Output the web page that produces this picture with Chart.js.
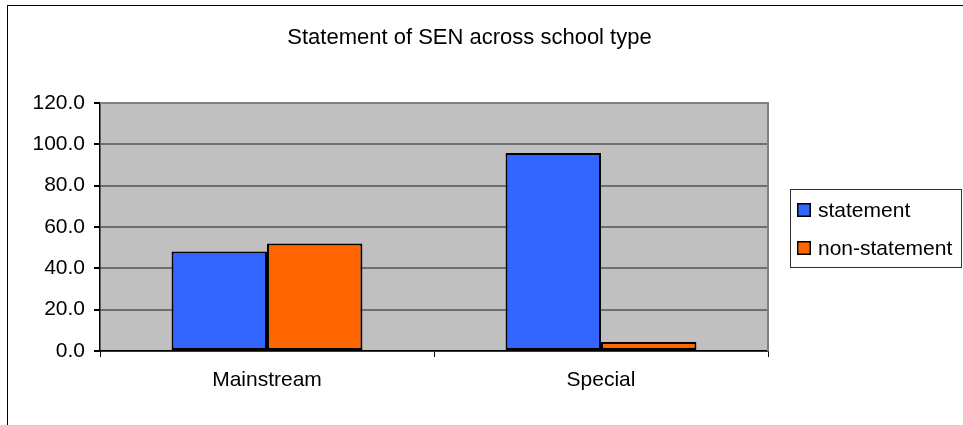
<!DOCTYPE html>
<html>
<head>
<meta charset="utf-8">
<script src="https://cdn.jsdelivr.net/npm/chart.js@4.4.1/dist/chart.umd.min.js"></script>
<style>
    html, body { margin: 0; padding: 0; background: #ffffff; }
    #wrap { position: relative; width: 963px; height: 425px; }
</style>
</head>
<body>
<div id="wrap"><canvas id="senChart" width="963" height="425"></canvas></div>
<script>
// --- data ---
const categories = ['Mainstream', 'Special'];
const statementValues = [48.2, 95.8];
const nonStatementValues = [52.0, 4.4];
const seriesLabels = ['statement', 'non-statement'];
const seriesColors = ['#3366ff', '#ff6600'];
const yTicks = [0, 20, 40, 60, 80, 100, 120];

const FONT = "'Liberation Sans', Arial, sans-serif";

// outer frame, plot background and the legend box (drawn like the old Excel chart)
const excelLook = {
    id: 'excelLook',
    beforeDraw(chart) {
        const c = chart.ctx;
        const a = chart.chartArea;
        c.save();
        c.fillStyle = '#ffffff';
        c.fillRect(0, 0, chart.width, chart.height);
        c.strokeStyle = '#000000';
        c.lineWidth = 1;
        c.strokeRect(7.5, 5.5, chart.width + 10, chart.height + 10);
        c.fillStyle = '#c0c0c0';
        c.fillRect(a.left, a.top, a.right - a.left, a.bottom - a.top);
        c.restore();
    },
    afterDatasetsDraw(chart) {
        const c = chart.ctx;
        const a = chart.chartArea;
        c.save();
        c.strokeStyle = '#808080';
        c.lineWidth = 2;
        c.beginPath();
        c.moveTo(a.left, a.top);
        c.lineTo(a.right, a.top);
        c.lineTo(a.right, a.bottom);
        c.stroke();
        c.restore();
    },
    afterDraw(chart) {
        const c = chart.ctx;
        c.save();
        // legend
        const lx = 790, ly = 189, lw = 171, lh = 78;
        c.strokeStyle = '#303030';
        c.lineWidth = 1;
        c.strokeRect(lx + 0.5, ly + 0.5, lw, lh);
        c.font = '21px ' + FONT;
        c.textBaseline = 'middle';
        chart.data.datasets.forEach((ds, i) => {
            const y = ly + 21 + i * 38;
            c.fillStyle = ds.backgroundColor;
            c.fillRect(797, y - 7, 14, 14);
            c.strokeStyle = '#000000';
            c.lineWidth = 1.5;
            c.strokeRect(797.75, y - 6.25, 12.5, 12.5);
            c.fillStyle = '#000000';
            c.fillText(ds.label, 818, y + 1);
        });
        c.restore();
    }
};

new Chart(document.getElementById('senChart'), {
    type: 'bar',
    data: {
        labels: categories,
        datasets: [{
            label: seriesLabels[0],
            data: statementValues,
            backgroundColor: seriesColors[0],
            borderColor: '#000000',
            borderWidth: 2,
            borderSkipped: false,
            categoryPercentage: 2 / 3.5,
            barPercentage: 1
        }, {
            label: seriesLabels[1],
            data: nonStatementValues,
            backgroundColor: seriesColors[1],
            borderColor: '#000000',
            borderWidth: 2,
            borderSkipped: false,
            categoryPercentage: 2 / 3.5,
            barPercentage: 1
        }]
    },
    options: {
        responsive: false,
        animation: false,
        layout: { padding: { left: 0, right: 24, top: 0, bottom: 0 } },
        plugins: {
            legend: { display: false },
            tooltip: { enabled: false },
            title: {
                display: true,
                text: 'Statement of SEN across school type',
                color: '#000000',
                font: { family: FONT, size: 22, weight: 'normal' },
                padding: { top: 25, bottom: 51.6 }
            }
        },
        scales: {
            x: {
                grid: { display: true, drawOnChartArea: false, drawTicks: true, tickLength: 6, color: '#000000' },
                border: { color: '#000000', width: 1.5 },
                ticks: { color: '#000000', font: { family: FONT, size: 21 }, padding: 11 },
                afterFit(axis) { axis.height = 74; }
            },
            y: {
                min: 0,
                max: 120,
                afterBuildTicks(axis) { axis.ticks = yTicks.map(v => ({ value: v })); },
                grid: { color: '#6e6e6e', lineWidth: 2, tickLength: 6, tickColor: '#000000' },
                border: { color: '#000000', width: 1.5 },
                ticks: {
                    color: '#000000',
                    font: { family: FONT, size: 21 },
                    padding: 9,
                    callback: v => v.toFixed(1)
                },
                afterFit(axis) { axis.width = 100; }
            },
            // empty right-hand axis that only reserves room for the legend
            legendSpace: {
                type: 'linear',
                position: 'right',
                min: 0,
                max: 120,
                grid: { display: false },
                border: { display: false },
                ticks: { display: false },
                afterFit(axis) { axis.width = 171; }
            }
        }
    },
    plugins: [excelLook]
});
</script>
</body>
</html>
